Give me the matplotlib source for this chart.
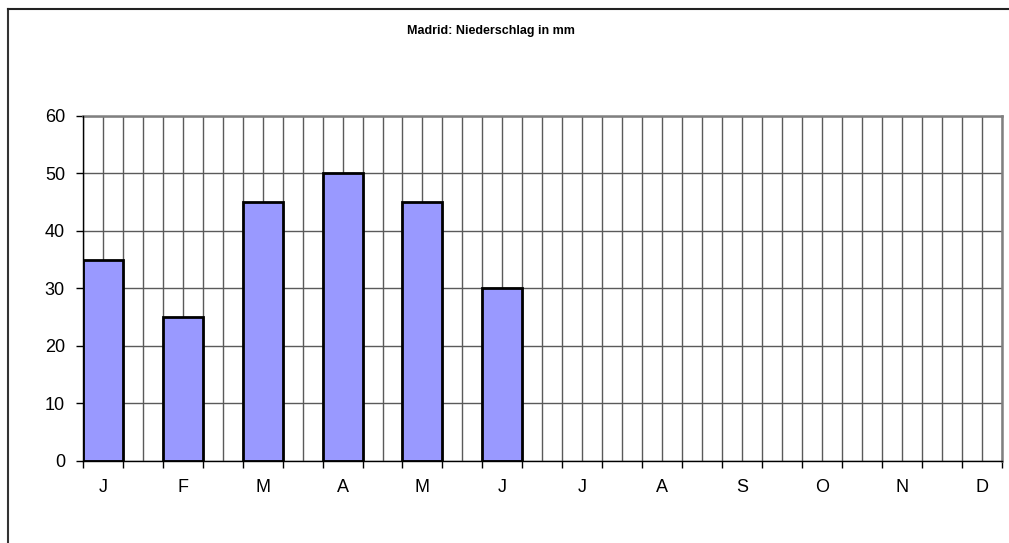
import matplotlib
matplotlib.use("Agg")
import matplotlib.pyplot as plt
from matplotlib.lines import Line2D
import numpy as np

plt.rcParams['font.family'] = ['Liberation Sans', 'DejaVu Sans']

# Monthly precipitation for Madrid (mm); only the first half-year is recorded
months = ["J", "F", "M", "A", "M", "J", "J", "A", "S", "O", "N", "D"]
precip_mm = [35, 25, 45, 50, 45, 30]
title = "Madrid: Niederschlag in mm"
y_ticks = [0, 10, 20, 30, 40, 50, 60]

W, H, DPI = 1009, 543, 100
fig = plt.figure(figsize=(W / DPI, H / DPI), dpi=DPI)
fig.patch.set_facecolor("white")

# plot area in pixel coordinates
left_px, right_px, top_px, bottom_px = 83, 1001.5, 116, 460.5
ax = fig.add_axes([left_px / W, 1 - bottom_px / H,
                   (right_px - left_px) / W, (bottom_px - top_px) / H])

# each month occupies one slot, with an empty slot between months
n_slots = 2 * len(months) - 1
month_pos = np.arange(len(months)) * 2
bar_pos = month_pos[:len(precip_mm)]

ax.set_xlim(-0.5, n_slots - 0.5)
ax.set_ylim(0, 60)

# grid
grid_color = "#5a5a5a"
for x in np.arange(-0.5, n_slots - 0.5 + 0.01, 0.5):
    ax.axvline(x, color=grid_color, lw=1.0, zorder=1)
for y in y_ticks:
    ax.axhline(y, color=grid_color, lw=1.0, zorder=1)

ax.bar(bar_pos, precip_mm, width=1.0, color="#9999FF", edgecolor="black",
       linewidth=2.0, zorder=3)

for side in ("top", "right"):
    ax.spines[side].set_color("#808080")
    ax.spines[side].set_linewidth(1.8)
for side in ("left", "bottom"):
    ax.spines[side].set_color("black")
    ax.spines[side].set_linewidth(1.0)
    ax.spines[side].set_zorder(4)

ax.set_yticks(y_ticks)
ax.set_yticklabels([str(v) for v in y_ticks], fontsize=13)
ax.tick_params(axis="y", direction="out", length=5, width=1, pad=8,
               color="black")

# tick marks on slot boundaries, month labels centred under the bars
ax.set_xticks(np.arange(-0.5, n_slots - 0.5 + 0.01, 1.0))
ax.set_xticklabels([])
ax.tick_params(axis="x", which="major", direction="out", length=5, width=1,
               color="black")
ax.set_xticks(month_pos, minor=True)
ax.set_xticklabels(months, minor=True, fontsize=13)
ax.tick_params(axis="x", which="minor", length=0, pad=13.5)

fig.text(491 / W, 1 - 31 / H, title, ha="center", va="center",
         fontsize=9, fontweight="bold")

# chart frame (extends past the right and bottom edges)
fig.add_artist(Line2D([7.5 / W, 7.5 / W], [1 - 8.5 / H, 0], color="#333333",
                      lw=1.5, transform=fig.transFigure))
fig.add_artist(Line2D([7.5 / W, 1], [1 - 8.5 / H, 1 - 8.5 / H], color="#222222",
                      lw=1.5, transform=fig.transFigure))

fig.savefig("out.png", dpi=DPI)
